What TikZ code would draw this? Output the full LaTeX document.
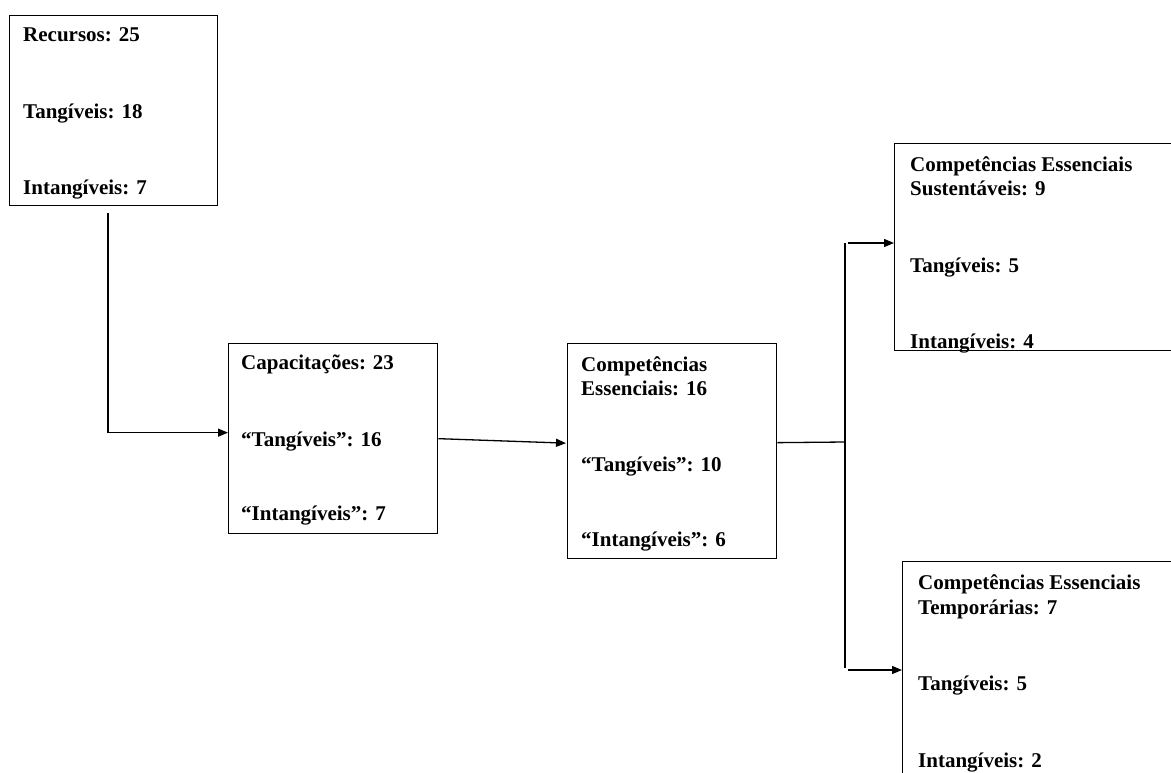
\documentclass[tikz,border=0pt]{standalone}
\usepackage{fontspec}
\setmainfont{Liberation Serif}
\usetikzlibrary{arrows.meta}
\begin{document}
\begin{tikzpicture}[x=1pt,y=-1pt,
  boxnode/.style={draw=black,line width=1.3pt,rectangle,inner sep=0pt,anchor=north west},
  txt/.style={anchor=base west,inner sep=0pt,font=\fontsize{21}{24}\selectfont\bfseries},
  conn/.style={line width=1.3pt,black},
  arr/.style={conn,-{Triangle[length=10pt,width=8pt]}}]
\useasboundingbox (0,0) rectangle (1171,772);
\clip (0,0) rectangle (1171,772);
% boxes
\node[boxnode,minimum width=208pt,minimum height=190pt] (rec) at (9,15) {};
\node[boxnode,minimum width=209pt,minimum height=190pt] (cap) at (228,343) {};
\node[boxnode,minimum width=209pt,minimum height=215pt] (ce) at (567,343) {};
\node[boxnode,minimum width=290pt,minimum height=207pt] (sust) at (894,143) {};
\node[boxnode,minimum width=290pt,minimum height=230pt] (temp) at (902,561) {};
% texts
\node[txt] (rec1) at (23,41) {Recursos: 25};
\node[txt] (rec2) at (23,118) {Tangíveis: 18};
\node[txt] (rec3) at (23,194) {Intangíveis: 7};
\node[txt] (cap1) at (241,369) {Capacitações: 23};
\node[txt] (cap2) at (241,446) {“Tangíveis”: 16};
\node[txt] (cap3) at (241,520) {“Intangíveis”: 7};
\node[txt] (ce1) at (581,371) {Competências};
\node[txt] (ce2) at (581,395) {Essenciais: 16};
\node[txt] (ce3) at (581,471) {“Tangíveis”: 10};
\node[txt] (ce4) at (581,546) {“Intangíveis”: 6};
\node[txt] (su1) at (910,171) {Competências Essenciais};
\node[txt] (su2) at (910,195) {Sustentáveis: 9};
\node[txt] (su3) at (910,272) {Tangíveis: 5};
\node[txt] (su4) at (910,348) {Intangíveis: 4};
\node[txt] (te1) at (918,589) {Competências Essenciais};
\node[txt] (te2) at (918,614) {Temporárias: 7};
\node[txt] (te3) at (918,690) {Tangíveis: 5};
\node[txt] (te4) at (918,767) {Intangíveis: 2};
% connectors
\coordinate (r1) at (108,213);
\draw[arr] (r1) |- ([yshift=6pt]cap.west);
\draw[arr] (cap.east) -- ([yshift=8pt,xshift=-1pt]ce.west);
\coordinate (jm) at (845,442);
\coordinate (jt) at (845,243);
\coordinate (jb) at (845,668);
\coordinate (at) at (848,243);
\coordinate (ab) at (848,670);
\draw[conn] ([yshift=8.5pt]ce.east) -- (jm);
\draw[conn] (jt) -- (jb);
\draw[arr] (at) -- (sust.west |- at);
\draw[arr] (ab) -- (temp.west |- ab);
\end{tikzpicture}
\end{document}
